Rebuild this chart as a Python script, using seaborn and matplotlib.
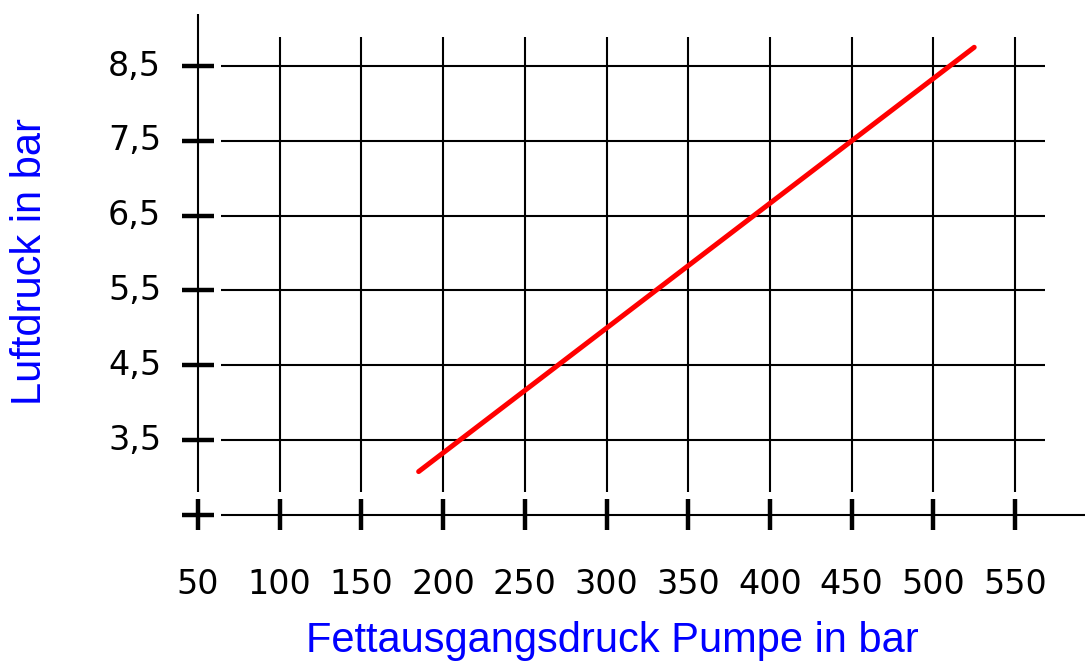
import matplotlib
matplotlib.use("Agg")
import matplotlib.pyplot as plt
import pandas as pd
import seaborn as sns

# Data
x_ticks = [50, 100, 150, 200, 250, 300, 350, 400, 450, 500, 550]
y_ticks = [3.5, 4.5, 5.5, 6.5, 7.5, 8.5]
y_tick_labels = ["3,5", "4,5", "5,5", "6,5", "7,5", "8,5"]
pump_pressure = [185, 525]      # Fettausgangsdruck Pumpe (bar)
air_pressure = [3.08, 8.75]     # Luftdruck (bar)

x_label = "Fettausgangsdruck Pumpe in bar"
y_label = "Luftdruck in bar"

sns.set_theme(style="white")
plt.rcParams["font.family"] = ["Liberation Sans", "DejaVu Sans"]

fig = plt.figure(figsize=(10.85, 6.63), dpi=100)
ax = fig.add_axes([0, 0, 1, 1])
ax.set_xlim(-71.2, 592.8)
ax.set_ylim(0.522, 9.382)
ax.axis("off")

y_base = 2.5
grid_kw = dict(color="black", lw=1.5)
tick_kw = dict(color="black", lw=3.2)

# horizontal grid lines + thick left ticks
ax.hlines(y_ticks, 64.1, 568.3, **grid_kw)
ax.hlines(y_ticks + [y_base], 40.2, 59.8, **tick_kw)
# bottom axis
ax.hlines(y_base, 64.1, 592.8, **grid_kw)

# vertical grid lines (y axis is taller) + thick bottom ticks
ax.vlines(x_ticks[1:], 2.807, 8.888, **grid_kw)
ax.vlines(x_ticks[0], 2.807, 9.195, **grid_kw)
ax.vlines(x_ticks, 2.30, 2.714, **tick_kw)

# data line
df = pd.DataFrame({"x": pump_pressure, "y": air_pressure})
sns.lineplot(data=df, x="x", y="y", color="#ff0000", lw=3.6, ax=ax,
             solid_capstyle="round")

tick_font = dict(family="DejaVu Sans", fontsize=24, color="black")
for xv in x_ticks:
    ax.text(xv, 1.565, str(xv), ha="center", va="center", **tick_font)
for yv, lab in zip(y_ticks, y_tick_labels):
    ax.text(27.4, yv, lab, ha="right", va="center", **tick_font)

fig.text(612 / 1085, 1 - 652 / 663, x_label, ha="center", va="baseline",
         fontsize=30, color="#0000ff")
fig.text(30 / 1085, 1 - 262 / 663, y_label, ha="center", va="center",
         rotation=90, fontsize=30, color="#0000ff")

fig.savefig("out.png", dpi=100)
